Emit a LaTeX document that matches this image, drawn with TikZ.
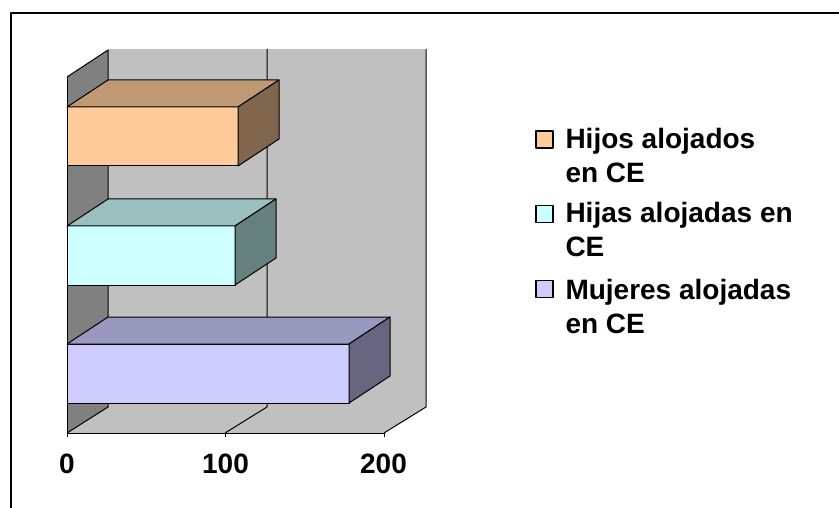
\documentclass[tikz,border=0pt]{standalone}
\usepackage{fontspec}
\setmainfont{Liberation Sans}
\usepackage{tikz}

\definecolor{wallside}{RGB}{128,128,128}
\definecolor{wallback}{RGB}{192,192,192}
\definecolor{hijosfront}{RGB}{255,204,153}
\definecolor{hijostop}{RGB}{191,153,115}
\definecolor{hijosside}{RGB}{128,102,76}
\definecolor{hijasfront}{RGB}{204,255,255}
\definecolor{hijastop}{RGB}{153,191,191}
\definecolor{hijasside}{RGB}{102,128,128}
\definecolor{mujeresfront}{RGB}{204,204,255}
\definecolor{mujerestop}{RGB}{153,153,191}
\definecolor{mujeresside}{RGB}{102,102,128}

\begin{document}
\begin{tikzpicture}[x=1pt,y=-1pt,line join=round,line width=1pt,
    ticklabel/.style={anchor=base,font=\bfseries\fontsize{28}{34}\selectfont},
    legtext/.style={anchor=base west,align=left,inner sep=0pt,font=\bfseries\fontsize{28}{34}\selectfont},
    legbox/.style={draw,line width=1.2pt,minimum size=17pt,inner sep=0pt}]
    \useasboundingbox (0,0) rectangle (839,508);
    % frame
    \draw[line width=2pt] (11,508) -- (11,13) -- (839,13);
    % walls and floor
    \fill[wallside] (67,77) -- (108,50) -- (108,407) -- (67,433) -- cycle;
    \fill[wallback] (108,49) rectangle (426,407);
    \fill[wallback] (67,433) -- (108,407) -- (426,407) -- (384,433) -- cycle;
    \draw (67,77) -- (108,50) -- (108,407) -- (67,433);
    \draw (267,49) -- (267,407) -- (225,433);
    \draw (426,49) -- (426,407) -- (384,433);
    \draw (67,77) -- (67,437);
    \draw (67,433) -- (384,433);
    \draw (225,433) -- (225,437);
    \draw (384,433) -- (384,437);
    % bars
    \filldraw[fill=hijosfront] (67,107) rectangle (238,166);
    \filldraw[fill=hijostop] (67,107) -- ++(41,-27) -- ++(171,0) -- (238,107) -- cycle;
    \filldraw[fill=hijosside] (238,107) -- ++(41,-27) -- ++(0,59) -- (238,166) -- cycle;
    \filldraw[fill=hijasfront] (67,226) rectangle (235,285);
    \filldraw[fill=hijastop] (67,226) -- ++(41,-27) -- ++(168,0) -- (235,226) -- cycle;
    \filldraw[fill=hijasside] (235,226) -- ++(41,-27) -- ++(0,59) -- (235,285) -- cycle;
    \filldraw[fill=mujeresfront] (67,344) rectangle (349,403);
    \filldraw[fill=mujerestop] (67,344) -- ++(41,-27) -- ++(282,0) -- (349,344) -- cycle;
    \filldraw[fill=mujeresside] (349,344) -- ++(41,-27) -- ++(0,59) -- (349,403) -- cycle;
    % axis labels
    \node[ticklabel] (t0) at (67,473) {0};
    \node[ticklabel] (t100) at (225.5,473) {100};
    \node[ticklabel] (t200) at (383.5,473) {200};
    % legend
    \node[legbox,fill=hijosfront] (bhijos) at (544.5,139.5) {};
    \node[legtext] (lhijos) at (565,183) {Hijos alojados\\en CE};
    \node[legbox,fill=hijasfront] (bhijas) at (544.5,214) {};
    \node[legtext] (lhijas) at (565,257) {Hijas alojadas en\\CE};
    \node[legbox,fill=mujeresfront] (bmujeres) at (544.5,289) {};
    \node[legtext] (lmujeres) at (565,333) {Mujeres alojadas\\en CE};
\end{tikzpicture}
\end{document}
